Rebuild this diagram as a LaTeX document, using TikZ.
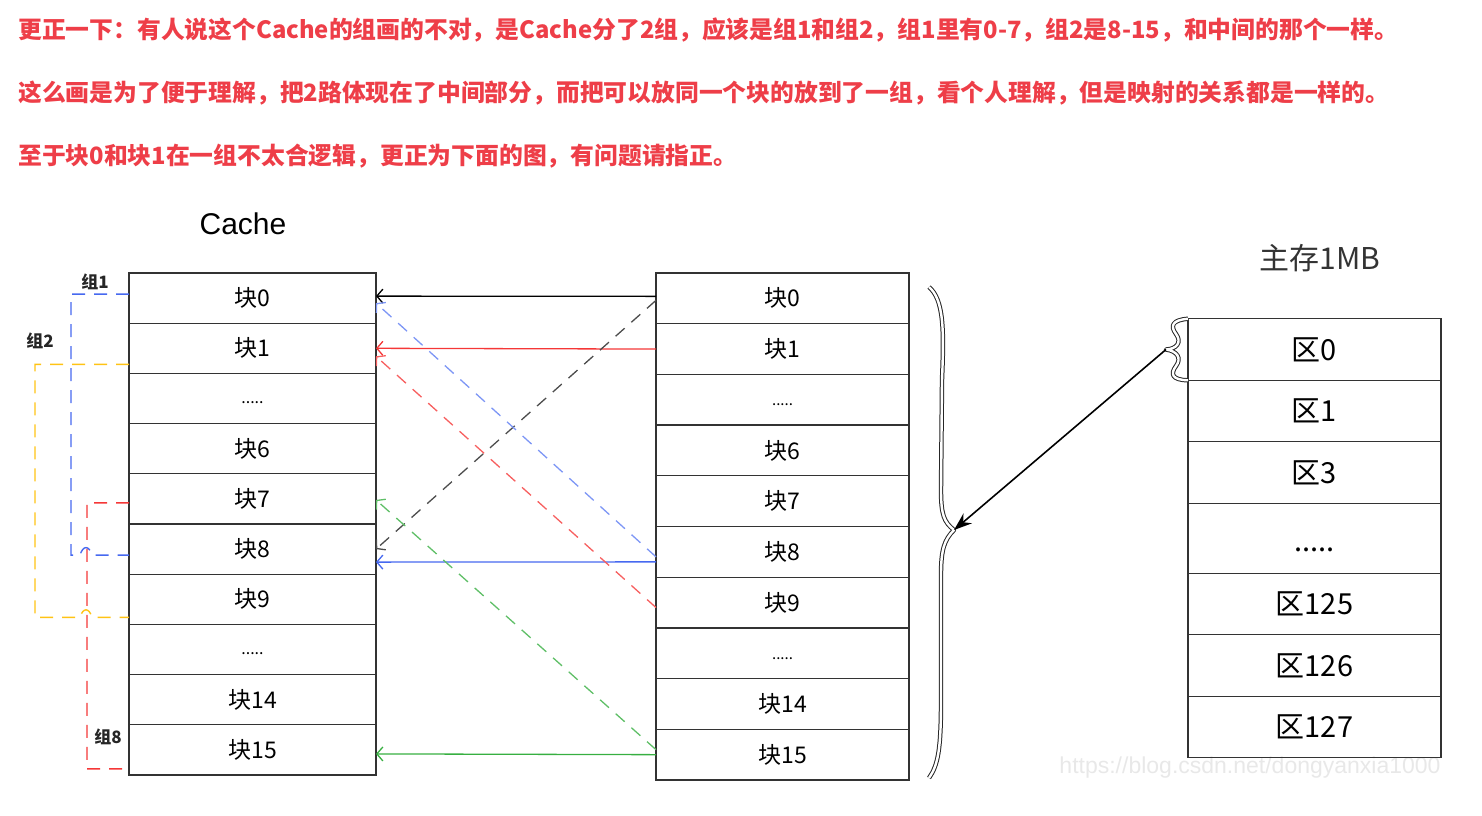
\documentclass[tikz,border=0pt]{standalone}
\usepackage{fontspec}
\setmainfont{Liberation Sans}
\newfontfamily\cjk{Noto Sans CJK SC}
\usepackage{tikz}
\usetikzlibrary{positioning,arrows.meta}
\definecolor{notered}{RGB}{238,62,72}
\definecolor{lblue}{RGB}{70,105,240}
\definecolor{lred}{RGB}{245,55,55}
\definecolor{lgreen}{RGB}{55,175,65}
\definecolor{lyellow}{RGB}{255,195,20}

\begin{document}
\begin{tikzpicture}[x=1pt,y=-1pt,
  crow/.style={draw=black!80,line width=1.3pt,minimum width=247pt,minimum height=50.2pt,inner sep=0pt,outer sep=0pt,font=\cjk\fontsize{23}{23}\selectfont},
  mrow/.style={crow,minimum width=253pt,minimum height=50.7pt},
  rrow/.style={crow,minimum width=253pt,minimum height=61.5pt,font=\cjk\fontsize{29}{29}\selectfont},
  note/.style={anchor=west,inner sep=0pt,text=notered,font=\cjk\bfseries\fontsize{23.8}{24}\selectfont},
  grplabel/.style={inner sep=0pt,text=black!85,font=\cjk\bfseries\fontsize{17}{17}\selectfont},
  link/.style={line width=1.3pt,-{Straight Barb[length=6pt,width=14pt]}},
  dlink/.style={link,dash pattern=on 12pt off 9pt},
  grp/.style={line width=1.4pt,dash pattern=on 13pt off 9pt},
  bracepath/.style={draw=black!85,double=white,double distance=2.4pt,line width=1pt,line join=round}]
\useasboundingbox (0,0) rectangle (1482,815);

\node[note] (t1) at (18,30) {更正一下：有人说这个Cache的组画的不对，是Cache分了2组，应该是组1和组2，组1里有0-7，组2是8-15，和中间的那个一样。};
\node[note] (t2) at (18,93) {这么画是为了便于理解，把2路体现在了中间部分，而把可以放同一个块的放到了一组，看个人理解，但是映射的关系都是一样的。};
\node[note] (t3) at (18,156) {至于块0和块1在一组不太合逻辑，更正为下面的图，有问题请指正。};

\node[font=\fontsize{23}{23}\selectfont,text=black!9] (wm) at (1250,768) {https://blog.csdn.net/dongyanxia1000};

\node[font=\fontsize{30}{30}\selectfont] (ctitle) at (243,224) {Cache};
\node[crow] (c0) at (252.5,298.1) {块0};
\node[crow,below=0pt of c0] (c1) {块1};
\node[crow,below=0pt of c1] (c2) {\fontsize{16}{16}\selectfont\raisebox{-5pt}[0pt][0pt]{.....}};
\node[crow,below=0pt of c2] (c3) {块6};
\node[crow,below=0pt of c3] (c4) {块7};
\node[crow,below=0pt of c4] (c5) {块8};
\node[crow,below=0pt of c5] (c6) {块9};
\node[crow,below=0pt of c6] (c7) {\fontsize{16}{16}\selectfont\raisebox{-5pt}[0pt][0pt]{.....}};
\node[crow,below=0pt of c7] (c8) {块14};
\node[crow,below=0pt of c8] (c9) {块15};

\node[mrow] (m0) at (782.5,298.35) {块0};
\node[mrow,below=0pt of m0] (m1) {块1};
\node[mrow,below=0pt of m1] (m2) {\fontsize{15}{15}\selectfont\raisebox{-6pt}[0pt][0pt]{.....}};
\node[mrow,below=0pt of m2] (m3) {块6};
\node[mrow,below=0pt of m3] (m4) {块7};
\node[mrow,below=0pt of m4] (m5) {块8};
\node[mrow,below=0pt of m5] (m6) {块9};
\node[mrow,below=0pt of m6] (m7) {\fontsize{15}{15}\selectfont\raisebox{-6pt}[0pt][0pt]{.....}};
\node[mrow,below=0pt of m7] (m8) {块14};
\node[mrow,below=0pt of m8] (m9) {块15};

\node[font=\cjk\fontsize{30}{30}\selectfont,text=black!80] (mtitle) at (1320,258) {主存1MB};
\node[rrow] (r0) at (1314.5,349.5) {区0};
\node[rrow,below=0pt of r0] (r1) {区1};
\node[rrow,below=0pt of r1] (r2) {区3};
\node[rrow,below=0pt of r2,minimum height=70pt] (r3) {\raisebox{-13pt}[0pt][0pt]{.....}};
\node[rrow,below=0pt of r3] (r4) {区125};
\node[rrow,below=0pt of r4] (r5) {区126};
\node[rrow,below=0pt of r5] (r6) {区127};

\draw[link,black] ([yshift=2pt]m0.west) -- ([yshift=2pt]c0.east);
\draw[link,lred] (m1.west) -- (c1.east);
\draw[link,lblue] ([yshift=-10pt]m5.west) -- ([yshift=-13pt]c5.east);
\draw[link,lgreen] (m9.west) -- ([yshift=-4pt]c9.east);
\draw[dlink,black!70] ([yshift=-2pt]m0.west) -- (c5.east);
\draw[dlink,lblue!70] ([yshift=-5pt]m5.west) -- ([yshift=-5pt]c0.east);
\draw[dlink,lred!80] ([yshift=-5pt]m6.west) -- ([yshift=-8pt]c1.east);
\draw[dlink,lgreen!80] ([yshift=5pt]m9.west) -- ([yshift=-1pt]c4.east);

\draw[grp,lblue] ([yshift=4pt]c0.west) -- ++(-58,0) -- ++(0,261) -- ++(9,0) .. controls +(3,-10) and +(-3,-10) .. ++(12,0) -- ([yshift=-6pt]c5.west);
\draw[grp,lyellow] ([yshift=-16pt]c1.west) -- ++(-94,0) -- ++(0,253) -- ++(45,0) .. controls +(3,-10) and +(-3,-10) .. ++(12,0) -- ([yshift=-18pt]c6.west);
\draw[grp,lred] ([yshift=-4pt]c4.west) -- ++(-42,0) -- ++(0,266) -- ([yshift=-19pt]c9.west);
\node[grplabel] (g1) at (95,282) {组1};
\node[grplabel] (g2) at (40,341) {组2};
\node[grplabel] (g8) at (108,737) {组8};

\coordinate (btip) at (954,530);
\draw[bracepath] (929,287) .. controls (944,300) and (944,330) .. (942,380) -- (941,490) .. controls (941,515) and (944,522) .. (btip) .. controls (944,540) and (941,550) .. (941,575) -- (941,700) .. controls (941,750) and (938,765) .. (929,778);

\coordinate (stip) at ([xshift=-22pt]r0.west);
\draw[bracepath] (r0.north west) .. controls (1172,320) and (1170,326) .. (1176,334) .. controls (1182,342) and (1177,349) .. (stip) .. controls (1177,351) and (1182,358) .. (1176,366) .. controls (1170,374) and (1172,380) .. (r0.south west);
\draw[line width=1.6pt,-{Stealth[length=18pt,width=13pt,inset=6pt]}] (stip) -- (btip);

\end{tikzpicture}
\end{document}
